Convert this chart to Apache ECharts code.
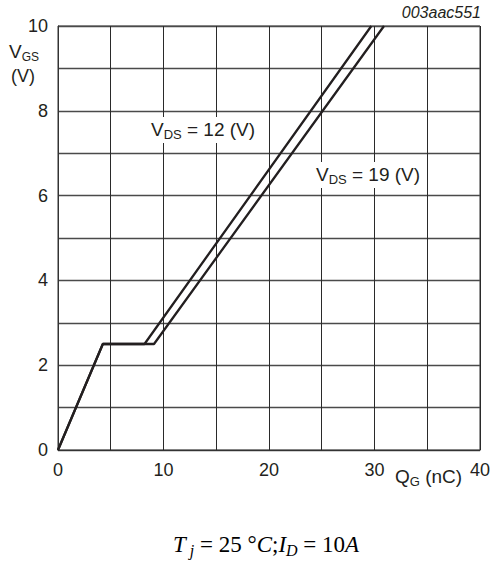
<!DOCTYPE html>
<html><head><meta charset="utf-8">
<script src="https://cdn.jsdelivr.net/npm/echarts@6/dist/echarts.min.js"></script>
<style>html,body{margin:0;padding:0;background:#fff}#c{width:493px;height:564px}</style>
</head><body><div id="c"></div>
<script>
// Data (Q_G in nC, V_GS in V)
const vds12Q = [0, 4.25, 8.2, 29.7];
const vds12V = [0, 2.5, 2.5, 10];
const vds19Q = [0, 4.25, 9.1, 30.9];
const vds19V = [0, 2.5, 2.5, 10];
const xTicks = [0, 10, 20, 30, 40];
const yTicks = [0, 2, 4, 6, 8, 10];

const ink = '#231f20';
const font = 'Liberation Sans, Arial, sans-serif';
const serif = 'Liberation Serif, Times New Roman, serif';
function pairs(xs, ys){ return xs.map((x,i)=>[x, ys[i]]); }
const lbl = {m:{fontSize:19, fontFamily:font, fill:ink}, s:{fontSize:13, fontFamily:font, fill:ink, padding:[9,0,0,0]}};

const chart = echarts.init(document.getElementById('c'), null, {renderer:'svg'});
chart.setOption({
  animation:false,
  backgroundColor:'#fff',
  grid:{left:58, top:26, width:422, height:424, show:true, borderColor:'#333', borderWidth:1, backgroundColor:'transparent'},
  xAxis:{type:'value', min:0, max:40, interval:5,
    axisLine:{lineStyle:{color:'#333', width:1}}, axisTick:{show:false},
    splitLine:{show:true, lineStyle:{color:'#2a2a2a', width:1}},
    axisLabel:{color:ink, fontSize:18, fontFamily:font, margin:11,
      formatter:v=> xTicks.includes(v) ? String(v) : ''}},
  yAxis:{type:'value', min:0, max:10, interval:1,
    axisLine:{lineStyle:{color:'#333', width:1}}, axisTick:{show:false},
    splitLine:{show:true, lineStyle:{color:'#4a4a4a', width:1.3}},
    axisLabel:{color:ink, fontSize:18, fontFamily:font, margin:10,
      formatter:v=> yTicks.includes(v) ? String(v) : ''}},
  series:[
    {type:'line', data:pairs(vds12Q, vds12V), symbol:'none', lineStyle:{color:ink, width:2.3}},
    {type:'line', data:pairs(vds19Q, vds19V), symbol:'none', lineStyle:{color:ink, width:2.3}}
  ],
  graphic:[
    {type:'rect', z:100, shape:{x:146, y:117, width:116, height:26}, style:{fill:'#fff'}},
    {type:'rect', z:100, shape:{x:311, y:162, width:114, height:26}, style:{fill:'#fff'}},
    {type:'text', z:101, left:9, top:42, style:{rich:{m:{fontSize:19, fontFamily:font, fill:ink}, s:{fontSize:12, fontFamily:font, fill:ink, padding:[10,0,0,0]}}, text:'{m|V}{s|GS}'}},
    {type:'text', z:101, left:11, top:67, style:{text:'(V)', fontSize:18, fontFamily:font, fill:ink}},
    {type:'text', z:101, left:151, top:120, style:{rich:lbl, text:'{m|V}{s|DS}{m| = 12 (V)}'}},
    {type:'text', z:101, left:316, top:165, style:{rich:lbl, text:'{m|V}{s|DS}{m| = 19 (V)}'}},
    {type:'text', z:101, left:395, top:467, style:{rich:lbl, text:'{m|Q}{s|G}{m| (nC)}'}},
    {type:'text', z:101, right:12, top:4, style:{text:'003aac551', fontSize:16, fontStyle:'italic', fontFamily:font, fill:ink}},
    {type:'text', z:101, left:173, top:533, style:{rich:{
        i:{fontSize:23, fontStyle:'italic', fontFamily:serif, fill:'#000'},
        n:{fontSize:23, fontFamily:serif, fill:'#000'},
        s:{fontSize:16, fontStyle:'italic', fontFamily:serif, fill:'#000', padding:[11,0,0,0]}},
      text:'{i|T}{s| j}{n| = 25 °}{i|C}{n|;}{i|I}{s|D}{n| = 10}{i|A}'}}
  ]
});
</script></body></html>
